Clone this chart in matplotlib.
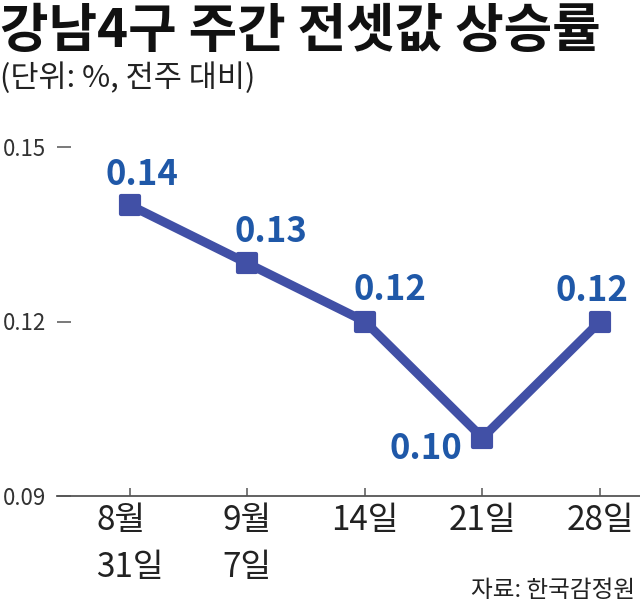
import matplotlib.pyplot as plt
from matplotlib.markers import MarkerStyle

plt.rcParams['font.family'] = ['Noto Sans CJK KR', 'DejaVu Sans']

# data
dates = ['8월\n31일', '9월\n7일', '14일', '21일', '28일']
rates = [0.14, 0.13, 0.12, 0.10, 0.12]
rate_labels = ['0.14', '0.13', '0.12', '0.10', '0.12']
y_ticks = [0.09, 0.12, 0.15]

# label offsets in points (dx, dy)
offsets = [(9, 22), (17, 23), (18, 23), (-41, -8), (-6, 22)]

line_col = '#4150a6'
label_col = '#1f58a8'
axis_col = '#555555'

fig = plt.figure(figsize=(6.4, 6.07), dpi=100)
ax = fig.add_axes([57 / 640, 111 / 607, 583 / 640, 349 / 607])

xs = list(range(len(rates)))
ax.plot(xs, rates, color=line_col, linewidth=6.5, solid_joinstyle='round',
        marker=MarkerStyle('s', joinstyle='round'), markersize=13,
        markeredgewidth=3, markeredgecolor=line_col, markerfacecolor=line_col,
        clip_on=False, zorder=3)

for x, y, txt, off in zip(xs, rates, rate_labels, offsets):
    ax.annotate(txt, (x, y), xytext=off, textcoords='offset points',
                ha='center', va='center', fontsize=25, fontweight='bold',
                color=label_col)

ax.set_xlim(-0.62, 4.34)
ax.set_ylim(0.09, 0.15)

for s in ['top', 'right', 'left']:
    ax.spines[s].set_visible(False)
ax.spines['bottom'].set_color(axis_col)
ax.spines['bottom'].set_linewidth(1.3)

ax.set_yticks(y_ticks)
ax.set_yticklabels([f'{v:.2f}' for v in y_ticks], fontsize=16, color='#333333')
ax.tick_params(axis='y', direction='in', length=10, width=1.1, color=axis_col, pad=8)

ax.set_xticks(xs)
ax.set_xticklabels(dates, fontsize=24, color='#222222', linespacing=1.45,
                   multialignment='left')
ax.tick_params(axis='x', direction='in', length=6, width=1.1, color=axis_col, pad=5)

fig.text(0.0, 0.992, '강남4구 주간 전셋값 상승률', fontsize=38, fontweight='bold',
         ha='left', va='top', color='#111111')
fig.text(0.0, 0.897, '(단위: %, 전주 대비)', fontsize=22, ha='left', va='top',
         color='#222222')
fig.text(0.992, 0.028, '자료: 한국감정원', fontsize=17, ha='right', va='center',
         color='#222222')

fig.savefig('out.png', dpi=100)
